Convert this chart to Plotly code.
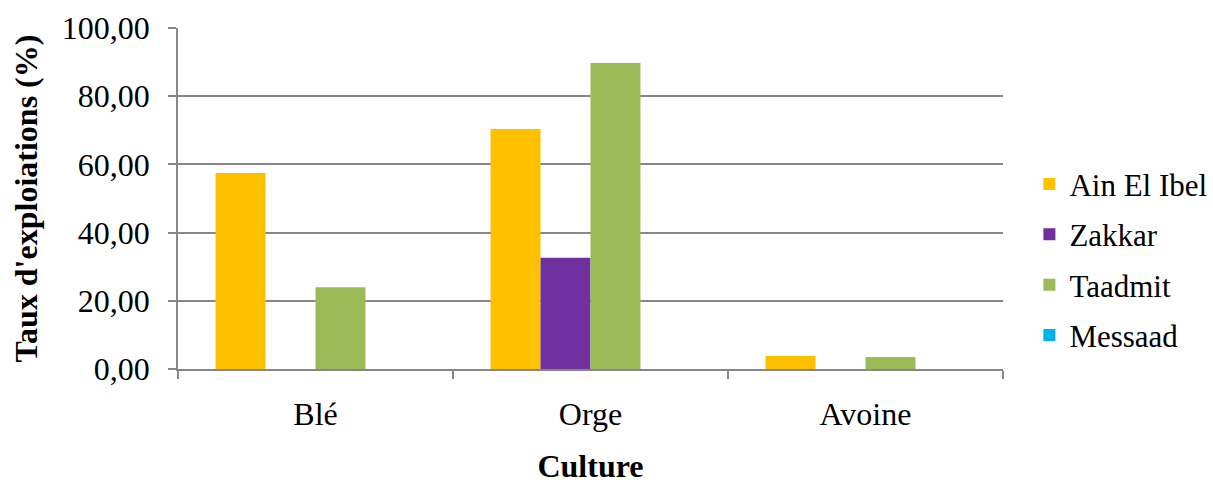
import plotly.graph_objects as go

# Taux d'exploitations (%) par culture et par commune
cultures = ["Blé", "Orge", "Avoine"]
ain_el_ibel = [57.5, 70.4, 3.8]
zakkar = [0.0, 32.6, 0.0]
taadmit = [24.0, 89.7, 3.5]
messaad = [0.0, 0.0, 0.0]

series = [
    ("Ain El Ibel", ain_el_ibel, "#FFC000"),
    ("Zakkar", zakkar, "#7030A0"),
    ("Taadmit", taadmit, "#9BBB59"),
    ("Messaad", messaad, "#00B0F0"),
]

FONT = "Liberation Serif"
GRID = "#878787"
FS = 32

fig = go.Figure()
for name, vals, color in series:
    fig.add_trace(go.Bar(
        x=cultures, y=vals, name=name,
        marker=dict(color=color, line=dict(width=0)),
        legendgroup=name,
    ))

fig.update_layout(
    width=1213, height=484,
    margin=dict(l=178, r=210, t=28, b=115, autoexpand=False),
    paper_bgcolor="white", plot_bgcolor="white",
    barmode="group", bargap=0.273, bargroupgap=0,
    separators=", ",
    font=dict(family=FONT, size=FS, color="black"),
    legend=dict(
        x=1.032, y=0.32, xanchor="left", yanchor="middle",
        font=dict(family=FONT, size=31, color="black"),
        tracegroupgap=7, itemwidth=30,
    ),
    showlegend=True,
)

fig.update_xaxes(
    title=dict(text="<b>Culture</b>", font=dict(family=FONT, size=FS), standoff=37),
    automargin=False,
    showline=True, linecolor=GRID, linewidth=2,
    ticks="outside", tickson="boundaries", ticklen=8, tickcolor=GRID, tickwidth=1.5,
    ticklabelstandoff=16,
    tickfont=dict(family=FONT, size=FS),
    showgrid=False,
)
fig.update_yaxes(
    title=dict(text="<b>Taux d'exploiations (%)</b>", font=dict(family=FONT, size=FS), standoff=15),
    automargin=False,
    range=[0, 100], dtick=20, tickformat=".2f",
    showline=True, linecolor=GRID, linewidth=1.5,
    ticks="outside", ticklen=8, tickcolor=GRID, tickwidth=1.5,
    ticklabelstandoff=12,
    tickfont=dict(family=FONT, size=FS),
    showgrid=True, gridcolor=GRID, gridwidth=1.5,
    zeroline=False,
)

fig.write_html("out.html")
